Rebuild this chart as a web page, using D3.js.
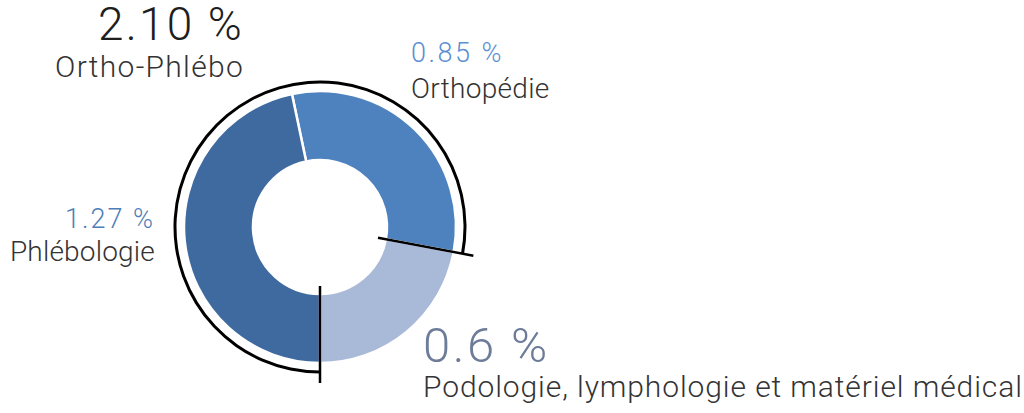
<!DOCTYPE html>
<html><head><meta charset="utf-8">
<script src="https://cdn.jsdelivr.net/npm/d3@7"></script>
<style>
html,body{margin:0;padding:0;background:#fff;}
svg text{font-family:Roboto,"Liberation Sans",Arial,sans-serif;font-weight:300;}
</style></head>
<body><svg id="c" width="1024" height="413"></svg>
<script>
const categories = ["Orthopédie", "Podologie, lymphologie et matériel médical", "Phlébologie"];
const values = [0.85, 0.6, 1.27];
const valueLabels = ["0.85 %", "0.6 %", "1.27 %"];
const groupLabel = "Ortho-Phlébo";
const groupValueLabel = "2.10 %";
const sliceColors = ["#4d82bf", "#a9bad8", "#3f6a9f"];
const valueColors = ["#5b8fd0", "#6d7c98", "#4f7db7"];

const svg = d3.select("#c");
const cx = 320, cy = 227;
const g = svg.append("g").attr("transform", `translate(${cx},${cy})`);

const total = d3.sum(values);
// boundary between slice 2 and 3 sits at the bottom (angle PI)
const start = Math.PI - 2 * Math.PI * (values[0] + values[1]) / total;
const pie = d3.pie().sort(null).startAngle(start).endAngle(start + 2 * Math.PI);
const arcs = pie(values);

const arc = d3.arc().innerRadius(67).outerRadius(136);
g.selectAll("path.slice").data(arcs).join("path")
  .attr("class", "slice")
  .attr("d", arc)
  .attr("fill", (d, i) => sliceColors[i])
  .attr("stroke", "#fff")
  .attr("stroke-width", 2.5);

// bracket arc around Ortho + Phlébo
const bStart = arcs[2].startAngle;
const bEnd = arcs[0].endAngle + 2 * Math.PI;
g.append("path")
  .attr("d", d3.arc().innerRadius(143.5).outerRadius(146.5).startAngle(bStart).endAngle(bEnd)())
  .attr("fill", "#000");

// radial ticks
[arcs[0].endAngle, arcs[2].startAngle].forEach(a => {
  const r0 = 59, r1 = 156;
  g.append("line")
    .attr("x1", r0 * Math.sin(a)).attr("y1", -r0 * Math.cos(a))
    .attr("x2", r1 * Math.sin(a)).attr("y2", -r1 * Math.cos(a))
    .attr("stroke", "#000").attr("stroke-width", 2.5);
});

function label(x, yv, yl, anchor, val, valSize, valColor, valLs, txt, txtSize, txtLs) {
  svg.append("text").attr("x", x).attr("y", yv).attr("text-anchor", anchor)
    .attr("font-size", valSize).attr("fill", valColor)
    .style("letter-spacing", valLs + "px").text(val);
  svg.append("text").attr("x", x).attr("y", yl).attr("text-anchor", anchor)
    .attr("font-size", txtSize).attr("fill", "#333")
    .style("letter-spacing", txtLs + "px").text(txt);
}
label(244, 40, 77, "end", groupValueLabel, 46, "#1e1e1e", 2.2, groupLabel, 30, 1.3);
label(411, 62, 98, "start", valueLabels[0], 27, valueColors[0], 2.5, categories[0], 28, 0.3);
label(155, 228, 261, "end", valueLabels[2], 27, valueColors[2], 2, categories[2], 28, 0.2);
label(423, 362, 397, "start", valueLabels[1], 49, valueColors[1], 2.5, categories[1], 30, 0.9);
</script></body></html>
